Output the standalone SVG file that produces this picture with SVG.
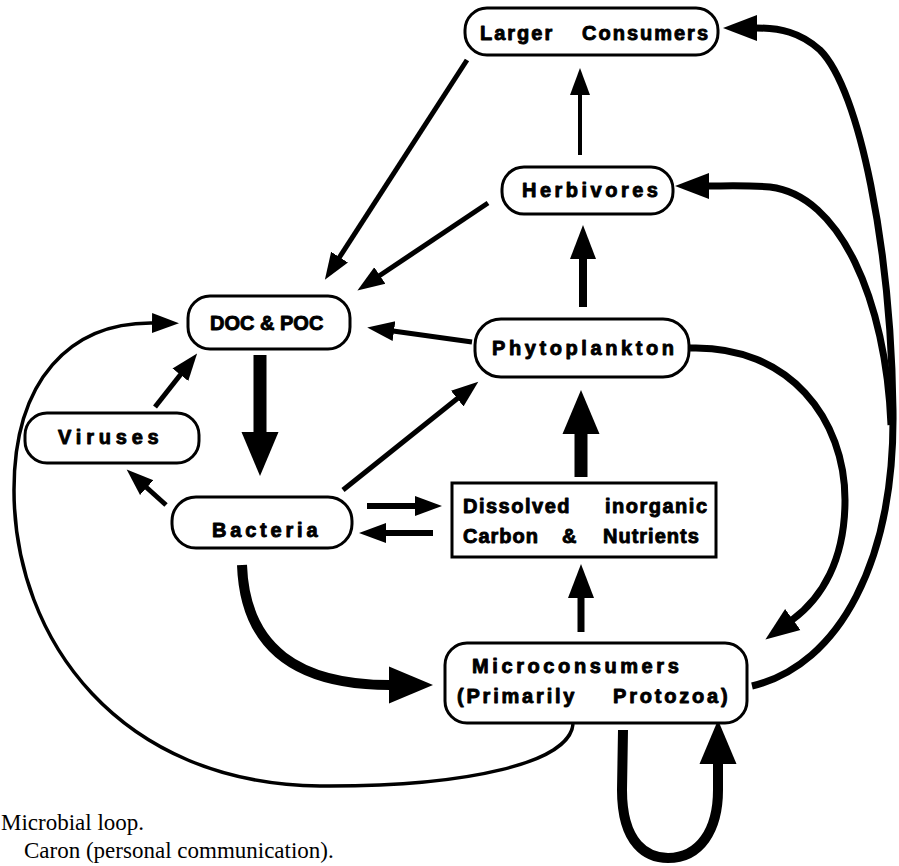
<svg xmlns="http://www.w3.org/2000/svg" width="899" height="866" viewBox="0 0 899 866">
<style>
.box{fill:#fff;stroke:#000;stroke-width:3}
.lbl{font-family:"Liberation Sans",Arial,sans-serif;font-weight:bold;font-size:20px;fill:#000;stroke:#000;stroke-width:0.9;stroke-linejoin:round}
.ln{fill:none;stroke:#000;stroke-linecap:butt;stroke-linejoin:round}
.cap{font-family:"Liberation Serif","Times New Roman",serif;font-size:23px;fill:#000}
</style>
<defs>
<marker id="hS" markerUnits="userSpaceOnUse" markerWidth="30" markerHeight="24" viewBox="0 -12 30 24" refX="1" refY="0" orient="auto"><path d="M0,-10 L27,0 L0,10 z" fill="#000"/></marker>
<marker id="hM" markerUnits="userSpaceOnUse" markerWidth="36" markerHeight="30" viewBox="0 -15 36 30" refX="1" refY="0" orient="auto"><path d="M0,-13 L34,0 L0,13 z" fill="#000"/></marker>
<marker id="hL" markerUnits="userSpaceOnUse" markerWidth="46" markerHeight="40" viewBox="0 -20 46 40" refX="1" refY="0" orient="auto"><path d="M0,-18.5 L44,0 L0,18.5 z" fill="#000"/></marker>
</defs>

<g id="connectors">
<path class="ln" stroke-width="5" d="M467 60 L339 258" marker-end="url(#hS)"/>
<path class="ln" stroke-width="5" d="M488 203 L379 276" marker-end="url(#hS)"/>
<path class="ln" stroke-width="4" d="M580 155 L580 94" marker-end="url(#hS)"/>
<path class="ln" stroke-width="8" d="M583 307 L583 258" marker-end="url(#hM)"/>
<path class="ln" stroke-width="5" d="M472 342 L393 331" marker-end="url(#hS)"/>
<path class="ln" stroke-width="5" d="M155 407 L181 374" marker-end="url(#hS)"/>
<path class="ln" stroke-width="13" d="M260 355 L260 433" marker-end="url(#hL)"/>
<path class="ln" stroke-width="5" d="M166 505 L146 487" marker-end="url(#hS)"/>
<path class="ln" stroke-width="5" d="M343 490 L458 398" marker-end="url(#hS)"/>
<path class="ln" stroke-width="6" d="M367 506 L416 506" marker-end="url(#hS)"/>
<path class="ln" stroke-width="6" d="M433 533 L385 533" marker-end="url(#hS)"/>
<path class="ln" stroke-width="13" d="M581 477 L581 433" marker-end="url(#hL)"/>
<path class="ln" stroke-width="7" d="M581 632 L581 597" marker-end="url(#hM)"/>
<path class="ln" stroke-width="10" d="M242 565 C 245 650, 300 685, 390 685" marker-end="url(#hL)"/>
<path class="ln" stroke-width="3.5" d="M573 724 C 570 762, 470 787, 320 786 C 120 784, 14 640, 14 490 C 14 380, 70 322, 153 323" marker-end="url(#hS)"/>
<path class="ln" stroke-width="7" d="M690 348 C 790 345, 845 420, 845 500 C 845 560, 822 598, 792 620" marker-end="url(#hM)"/>
<path class="ln" stroke-width="7" d="M752 686 C 840 665, 895 560, 893 410 C 891 250, 860 90, 820 50 C 800 32, 780 28, 756 28" marker-end="url(#hM)"/>
<path class="ln" stroke-width="7" d="M891 425 C 886 300, 840 195, 770 187 C 745 185, 725 186, 708 186" marker-end="url(#hM)"/>
<path class="ln" stroke-width="10" d="M623 730 L622 790 C 622 845, 648 858, 668 858 C 700 858, 718 830, 718 790 L718 763" marker-end="url(#hL)"/>
</g>

<g id="larger-consumers">
<rect class="box" x="465" y="8" width="253" height="47" rx="22"/>
<text class="lbl" x="480" y="40" letter-spacing="2">Larger<tspan x="582">Consumers</tspan></text>
</g>
<g id="herbivores">
<rect class="box" x="502" y="167" width="171" height="47" rx="22"/>
<text class="lbl" x="522" y="197" letter-spacing="3.5">Herbivores</text>
</g>
<g id="doc-poc">
<rect class="box" x="188" y="296" width="162" height="53" rx="22"/>
<text class="lbl" x="210" y="330" font-size="22" letter-spacing="0">DOC &amp; POC</text>
</g>
<g id="viruses">
<rect class="box" x="25" y="413" width="174" height="50" rx="22"/>
<text class="lbl" x="58" y="444" letter-spacing="4.8">Viruses</text>
</g>
<g id="bacteria">
<rect class="box" x="172" y="497" width="180" height="51" rx="24"/>
<text class="lbl" x="212" y="537" font-size="21" letter-spacing="3.8">Bacteria</text>
</g>
<g id="phytoplankton">
<rect class="box" x="475" y="319" width="214" height="58" rx="26"/>
<text class="lbl" x="492" y="355" letter-spacing="3.6">Phytoplankton</text>
</g>
<g id="dissolved-inorganic">
<rect class="box" x="452" y="483" width="264" height="74" rx="0"/>
<text class="lbl" x="463" y="513" letter-spacing="1.5">Dissolved<tspan x="605">inorganic</tspan></text>
<text class="lbl" x="463" y="543" letter-spacing="1">Carbon<tspan x="562">&amp;</tspan><tspan x="603">Nutrients</tspan></text>
</g>
<g id="microconsumers">
<rect class="box" x="445" y="643" width="302" height="80" rx="22"/>
<text class="lbl" x="472" y="673" letter-spacing="3.6">Microconsumers</text>
<text class="lbl" x="457" y="703" letter-spacing="2.8">(Primarily<tspan x="613">Protozoa)</tspan></text>
</g>

<g id="caption">
<text class="cap" x="1" y="830">Microbial loop.</text>
<text class="cap" x="24" y="858">Caron (personal communication).</text>
</g>
</svg>
